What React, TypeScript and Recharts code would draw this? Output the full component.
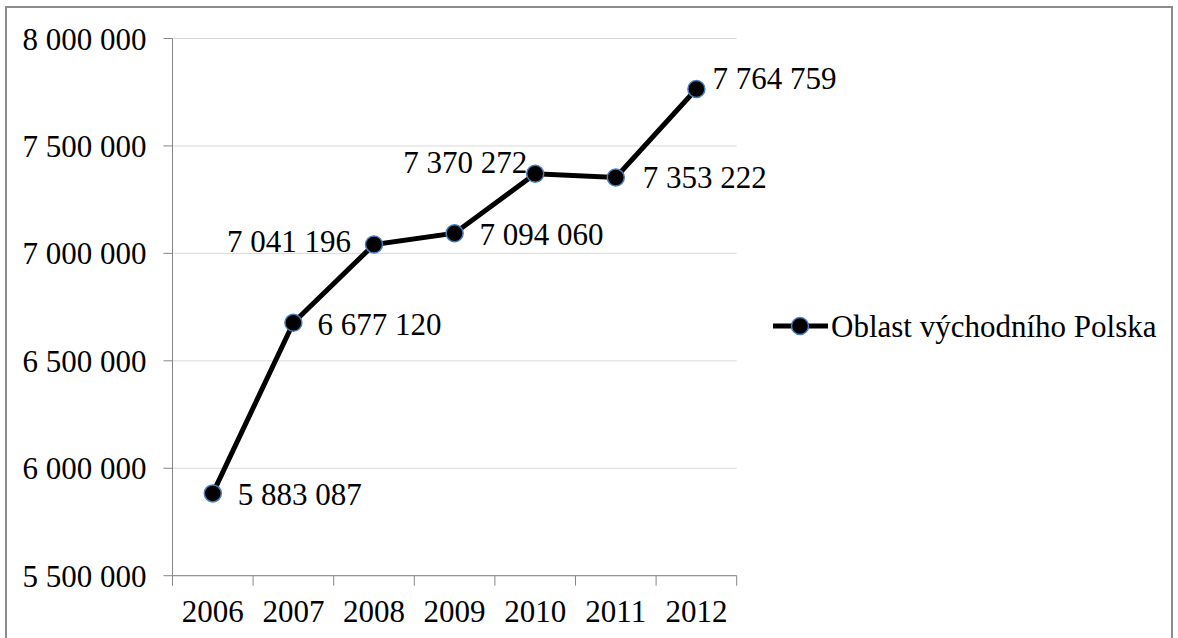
import React from "react";
import {
  LineChart,
  Line,
  XAxis,
  YAxis,
  CartesianGrid,
  LabelList,
} from "recharts";

const years = ["2006", "2007", "2008", "2009", "2010", "2011", "2012"];
const values = [5883087, 6677120, 7041196, 7094060, 7370272, 7353222, 7764759];
const yTicks = [5500000, 6000000, 6500000, 7000000, 7500000, 8000000];
const seriesName = "Oblast východního Polska";

// label placement per point (dx from point, dy shift)
const labelDx = [25, 24, -23, 25, -8, 27, 16];
const labelDy = [1, 1, -3, 1, -12, 0, -11];

const data = years.map((year, i) => ({ year, value: values[i] }));

const W = 1178;
const H = 638;
const PLOT_LEFT = 172.5;
const PLOT_RIGHT = 736.7;
const PLOT_TOP = 38.5;
const PLOT_BOTTOM = 575.7;
const HALF_BAND = (PLOT_RIGHT - PLOT_LEFT) / years.length / 2;

const FONT = '"Liberation Serif", "Times New Roman", serif';
const FS = 31;
const AXIS_GREY = "#868686";

const fmt = (v: number) =>
  Math.round(v).toString().replace(/\B(?=(\d{3})+(?!\d))/g, " ");

const XTick = (props: any) => {
  const { x, index, payload } = props;
  const last = index === years.length - 1;
  return (
    <g>
      <line
        x1={x - HALF_BAND}
        x2={x - HALF_BAND}
        y1={PLOT_BOTTOM}
        y2={PLOT_BOTTOM + 10}
        stroke={AXIS_GREY}
      />
      {last && (
        <line
          x1={x + HALF_BAND}
          x2={x + HALF_BAND}
          y1={PLOT_BOTTOM}
          y2={PLOT_BOTTOM + 10}
          stroke={AXIS_GREY}
        />
      )}
      <text
        x={x}
        y={PLOT_BOTTOM + 46}
        textAnchor="middle"
        fontFamily={FONT}
        fontSize={FS}
        fill="#000"
      >
        {payload.value}
      </text>
    </g>
  );
};

const PointLabel = (props: any) => {
  const { x, y, index, value } = props;
  const dx = labelDx[index];
  return (
    <text
      x={x + dx}
      y={y + labelDy[index]}
      dy="0.35em"
      textAnchor={dx < 0 ? "end" : "start"}
      fontFamily={FONT}
      fontSize={FS}
      fill="#000"
    >
      {fmt(value)}
    </text>
  );
};

const LegendBox = () => (
  <svg
    width={400}
    height={40}
    style={{ position: "absolute", left: 770, top: 306 }}
  >
    <line x1={3} x2={58} y1={20} y2={20} stroke="#000" strokeWidth={5} />
    <circle cx={30} cy={20} r={8.5} fill="#000" stroke="#4a7ebb" strokeWidth={1.5} />
    <text x={61} y={20} dy="0.35em" fontFamily={FONT} fontSize={FS} fill="#000">
      {seriesName}
    </text>
  </svg>
);

export default function App() {
  return (
    <div style={{ position: "relative", width: W, height: H, background: "#fff", overflow: "hidden" }}>
      <style>{"body{margin:0}"}</style>
      <div
        style={{
          position: "absolute",
          left: 5,
          top: 6,
          width: 1168,
          height: 640,
          border: "2px solid #8c8c8c",
          boxSizing: "border-box",
        }}
      />
      <LineChart
        width={W}
        height={H}
        data={data}
        margin={{
          top: PLOT_TOP,
          left: PLOT_LEFT - 160,
          right: W - PLOT_RIGHT,
          bottom: H - PLOT_BOTTOM - 62,
        }}
        style={{ position: "absolute", left: 0, top: 0 }}
      >
        <CartesianGrid vertical={false} stroke="#d9d9d9" strokeWidth={1} />
        <XAxis
          dataKey="year"
          height={62}
          padding={{ left: HALF_BAND, right: HALF_BAND }}
          axisLine={{ stroke: AXIS_GREY }}
          tickLine={false}
          tick={<XTick />}
          interval={0}
        />
        <YAxis
          width={160}
          domain={[5500000, 8000000]}
          ticks={yTicks}
          tickFormatter={fmt}
          axisLine={{ stroke: AXIS_GREY }}
          tickLine={{ stroke: AXIS_GREY }}
          tickSize={9}
          tickMargin={17}
          tick={{ fontFamily: FONT, fontSize: FS, fill: "#000" }}
          interval={0}
        />
        <Line
          type="linear"
          dataKey="value"
          name={seriesName}
          stroke="#000"
          strokeWidth={5}
          dot={{ r: 8.5, fill: "#000", stroke: "#4a7ebb", strokeWidth: 1.5 }}
          activeDot={false}
          isAnimationActive={false}
        >
          <LabelList dataKey="value" content={<PointLabel />} />
        </Line>
      </LineChart>
      <LegendBox />
    </div>
  );
}
